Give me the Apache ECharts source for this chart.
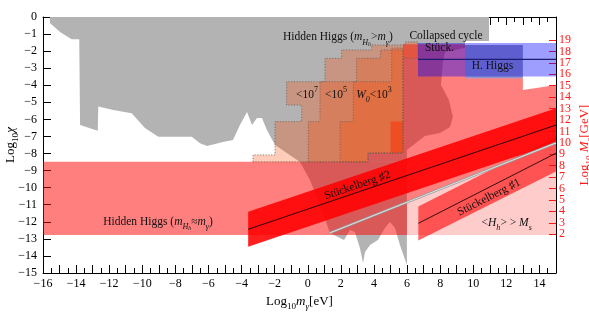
<!DOCTYPE html>
<html><head><meta charset="utf-8">
<script src="https://cdn.jsdelivr.net/npm/echarts@6/dist/echarts.min.js"></script>
<style>html,body{margin:0;padding:0;background:#fff}#c{width:589px;height:312px}</style>
</head><body><div id="c"></div>
<script>
// ---------- data (log10 m_gamma [eV], log10 chi) ----------
const grayConstraint = [[-15.58,0],[10.95,0],[10.95,-1.41],[9.5,-1.41],[9.5,-1.82],[8.29,-2.05],[8.17,-2.64],[8.05,-3.98],[8.53,-4.86],[8.77,-5.86],[8.59,-6.44],[7.99,-6.8],[7.08,-6.97],[5.99,-7.79],[5.99,-14.53],[5.57,-13.36],[5.27,-12.36],[4.97,-12.01],[4.66,-12.36],[4.24,-13.06],[3.76,-13.36],[3.46,-13.77],[3.34,-14.41],[3.15,-13.53],[2.85,-12.6],[2.55,-12.48],[2.19,-13.06],[1.82,-12.89],[1.34,-12.65],[0.74,-11.01],[0.13,-9.55],[-0.47,-8.49],[-1.98,-7.5],[-2.47,-6.62],[-2.77,-5.92],[-3.07,-5.92],[-3.37,-6.33],[-3.67,-5.57],[-4.1,-6.33],[-4.52,-7.21],[-5.12,-7.32],[-6.09,-7.56],[-6.51,-7.4],[-7.01,-7.01],[-9.03,-7.01],[-9.84,-6.5],[-10.64,-5.64],[-11.75,-5.45],[-12.66,-5.25],[-12.69,-6.66],[-13.76,-6.33],[-13.81,-1.31],[-14.27,-1.31],[-14.97,-0.88],[-15.58,-0.35]];
const hiddenHiggsBand = [[-16,-8.48],[6.0,-8.48],[6.0,-12.77],[-16,-12.77]];
const hiddenHiggsUpper = [[5.75,-1.6],[9.5,-1.6],[9.5,-3.59],[13.0,-3.59],[13.0,-4.28],[15,-3.98],[15,-7.38],[6.0,-10.85],[6.0,-8.48],[3.64,-8.48],[3.64,-7.97],[5.0,-7.97],[5.0,-6.13],[5.75,-6.13]];
const vevAboveMs = [[6.0,-12.77],[15,-12.77],[15,-7.38],[6.0,-10.85]];
const w0Below1e7 = [[-3.31,-8.49],[-3.31,-8.08],[-1.98,-8.08],[-1.98,-6.13],[-0.37,-6.13],[-0.37,-5.16],[-1.28,-5.16],[-1.28,-3.79],[1.04,-3.79],[1.04,-2.42],[2.05,-2.42],[2.05,-1.93],[3.86,-1.93],[3.86,-1.64],[5.9,-1.64],[5.9,-1.46],[6.66,-1.46],[6.66,-2.42],[5.75,-2.42],[5.75,-7.97],[3.64,-7.97],[3.64,-8.49]];
const w0Below1e5 = [[0.03,-8.49],[0.03,-6.13],[0.74,-6.13],[0.74,-3.79],[2.95,-3.79],[2.95,-2.42],[4.4,-2.42],[4.4,-1.93],[5.75,-1.93],[5.75,-7.97],[3.64,-7.97],[3.64,-8.49]];
const w0Below1e3 = [[1.95,-8.49],[1.95,-6.13],[2.75,-6.13],[2.75,-3.79],[5.07,-3.79],[5.07,-1.82],[5.75,-1.82],[5.75,-7.97],[3.64,-7.97],[3.64,-8.49]];
const stueckStrip = [[6.66,-1.52],[15,-1.52],[15,-3.48],[6.66,-3.48]];
const hHiggsBox = [[9.5,-1.64],[13.0,-1.64],[13.0,-3.59],[9.5,-3.59]];
const stueck2Band = [[-3.6,-11.41],[15,-5.35],[15,-7.38],[-3.6,-13.46]];
const stueck1Band = [[6.68,-11.11],[15,-7.03],[15,-9.06],[6.68,-13.1]];
const stueck2Line = [[-3.6,-12.44],[15,-6.33]];
const stueck1Line = [[6.68,-12.09],[15,-7.98]];
const grayEdgeLine = [[1.34,-12.65],[15,-7.38]];
const planckLine = [[6.66,-2.48],[15,-2.48]];
const msTicksEven = [2,4,6,8,10,12,14,16,18];
const msTicksOdd = [3,5,7,9,11,13,15,17,19];
const regionLabels = [
  {text:'{n|Hidden Higgs (}{i|m}{s|H}{ss|h}{n|>}{i|m}{s|γ}{n|)}', at:[1.82,-1.2], rot:0},
  {text:'{n|Collapsed cycle}', at:[8.35,-1.1], rot:0},
  {text:'{n|Stück.}', at:[7.96,-1.83], rot:0},
  {text:'{n|H. Higgs}', at:[11.16,-2.87], rot:0},
  {text:'{n|<10}{p|7}', at:[-0.05,-4.57], rot:0},
  {text:'{n|<10}{p|5}', at:[1.7,-4.57], rot:0},
  {text:'{i|W}{s|0}{n|<10}{p|3}', at:[4.0,-4.57], rot:0},
  {text:'{n|Stückelberg ♯2}', at:[3.0,-9.87], rot:18.6},
  {text:'{n|Stückelberg ♯1}', at:[10.95,-10.57], rot:27},
  {text:'{n|<}{i|H}{s|h}{n|> > }{i|M}{s|s}', at:[12.02,-12.05], rot:0},
  {text:'{n|Hidden Higgs (}{i|m}{s|H}{ss|h}{n|≈}{i|m}{s|γ}{n|)}', at:[-9.05,-11.99], rot:0}
];

// ---------- styling ----------
const SERIF = "'Liberation Serif','DejaVu Serif',serif";
const MS_RED = '#ff1a1a';
function richZr(f, col) {
  const lh = f + 6;
  return {
    n:{fontFamily:SERIF,fontSize:f,fill:col,lineHeight:lh,verticalAlign:'middle'},
    i:{fontFamily:SERIF,fontSize:f,fontStyle:'italic',fill:col,lineHeight:lh,verticalAlign:'middle'},
    s:{fontFamily:SERIF,fontSize:f*0.7,fontStyle:'italic',fill:col,lineHeight:lh,verticalAlign:'bottom'},
    ss:{fontFamily:SERIF,fontSize:f*0.5,fontStyle:'italic',fill:col,lineHeight:lh+2,verticalAlign:'bottom'},
    p:{fontFamily:SERIF,fontSize:f*0.7,fill:col,lineHeight:lh,verticalAlign:'top'}
  };
}
function richEc(f, col) {
  const lh = f + 6;
  return {
    n:{fontFamily:SERIF,fontSize:f,color:col,lineHeight:lh,verticalAlign:'middle'},
    i:{fontFamily:SERIF,fontSize:f,fontStyle:'italic',color:col,lineHeight:lh,verticalAlign:'middle'},
    s:{fontFamily:SERIF,fontSize:f*0.7,color:col,lineHeight:lh,verticalAlign:'bottom'},
    si:{fontFamily:SERIF,fontSize:f*0.7,fontStyle:'italic',color:col,lineHeight:lh,verticalAlign:'bottom'}
  };
}
let zc = 1;
function poly(pts, style) {
  return {type:'custom', coordinateSystem:'cartesian2d', silent:true, z: zc++, data:[[0,-1]],
    renderItem:(params, api) => ({type:'polygon', shape:{points: pts.map(p => api.coord(p))}, style: style})};
}
function line(pts, color, width) {
  return {type:'line', data:pts, showSymbol:false, symbol:'none', silent:true, z: zc++,
    lineStyle:{color:color, width:width}, animation:false};
}
const orangeStyle = {fill:'rgba(255,69,0,0.27)', stroke:'#6f6058', lineWidth:0.8, lineDash:[1.2,1.6]};
const fmtNeg = v => v === 0 ? '0' : (v < 0 ? '−' + Math.abs(v) : String(v));

const series = [
  poly(grayConstraint, {fill:'#b3b3b3'}),
  poly(vevAboveMs, {fill:'rgba(255,0,0,0.2)'}),
  poly(hiddenHiggsBand, {fill:'rgba(255,0,0,0.5)'}),
  poly(hiddenHiggsUpper, {fill:'rgba(255,0,0,0.5)'}),
  poly(w0Below1e7, orangeStyle),
  poly(w0Below1e5, orangeStyle),
  poly(w0Below1e3, orangeStyle),
  poly(stueckStrip, {fill:'rgba(0,0,255,0.38)'}),
  poly(hHiggsBox, {fill:'rgba(20,20,150,0.46)'}),
  poly(stueck2Band, {fill:'rgba(255,0,0,0.88)'}),
  poly(stueck1Band, {fill:'rgba(255,0,0,0.6)'}),
  line(grayEdgeLine, '#9a9a9a', 2.4),
  line(grayEdgeLine, '#ffffff', 0.7),
  line(stueck2Line, '#000', 0.8),
  line(stueck1Line, '#000', 0.8),
  line(planckLine, '#1c1c70', 1.4),
  {type:'custom', coordinateSystem:'cartesian2d', silent:true, z: zc++,
   data: regionLabels.map(l => [l.at[0], l.at[1]]),
   renderItem:(params, api) => {
     const l = regionLabels[params.dataIndex];
     const p = api.coord(l.at);
     return {type:'text', x:p[0], y:p[1], rotation: l.rot * Math.PI / 180,
       style:{text:l.text, rich:richZr(11.5,'#111'), x:0, y:0, align:'center', verticalAlign:'middle',
              fontFamily:SERIF, fontSize:11.5, fill:'#111'}};
   }}
];

function msAxis(ticks, withLineAndName) {
  const ax = {type:'value', position:'right', min:-1.4, max:21.02, offset:0,
    axisLine:{show:withLineAndName, onZero:false, lineStyle:{color:'#000', width:1}},
    axisTick:{show:true, inside:true, length:7, customValues:ticks, lineStyle:{color:MS_RED, width:1}},
    splitLine:{show:false},
    axisLabel:{show:true, customValues:ticks, showMinLabel:true, showMaxLabel:true, hideOverlap:false,
               margin:3, fontFamily:SERIF, fontSize:12, color:MS_RED}};
  if (withLineAndName) {
    Object.assign(ax, {name:'{n|Log}{s|10}{n| }{i|M}{si|s}{n|[GeV]}', nameLocation:'middle', nameGap:19,
      nameRotate:90, nameMoveOverlap:false,
      nameTextStyle:{fontFamily:SERIF, fontSize:13, color:MS_RED, rich:richEc(13, MS_RED)}});
  }
  return ax;
}

const axisTxt = {fontFamily:SERIF, fontSize:12, color:'#000'};
const option = {
  animation:false,
  backgroundColor:'#fff',
  grid:{left:43, right:33, top:17, bottom:39, containLabel:false, outerBoundsMode:'none'},
  xAxis:[
    {type:'value', position:'bottom', min:-16, max:15, interval:1,
     axisLine:{onZero:false, lineStyle:{color:'#000', width:1}},
     axisTick:{inside:true, length:8, lineStyle:{color:'#000', width:1}},
     minorTick:{show:true, splitNumber:2, length:5, lineStyle:{color:'#000', width:1}},
     splitLine:{show:false}, minorSplitLine:{show:false},
     axisLabel:Object.assign({margin:5, formatter: v => (Math.round(v) % 2 === 0 ? fmtNeg(v) : '')}, axisTxt),
     name:'{n|Log}{s|10}{i|m}{si|γ}{n|[eV]}', nameLocation:'middle', nameGap:19,
     nameTextStyle:{fontFamily:SERIF, fontSize:13, color:'#000', rich:richEc(13,'#000')}},
    {type:'value', position:'top', min:-16, max:15, interval:1,
     axisLine:{onZero:false, lineStyle:{color:'#000', width:1}},
     axisTick:{inside:true, length:8, lineStyle:{color:'#000', width:1}},
     minorTick:{show:true, splitNumber:2, length:5, lineStyle:{color:'#000', width:1}},
     splitLine:{show:false}, axisLabel:{show:false}}
  ],
  yAxis:[
    {type:'value', position:'left', min:-15, max:0, interval:1,
     axisLine:{onZero:false, lineStyle:{color:'#000', width:1}},
     axisTick:{inside:true, length:8, lineStyle:{color:'#000', width:1}},
     splitLine:{show:false},
     axisLabel:Object.assign({margin:6, formatter: fmtNeg}, axisTxt),
     name:'{n|Log}{s|10}{i|χ}', nameLocation:'middle', nameGap:23, nameRotate:90, nameMoveOverlap:false,
     nameTextStyle:{fontFamily:SERIF, fontSize:13, color:'#000', rich:richEc(13,'#000')}},
    msAxis(msTicksEven, true),
    msAxis(msTicksOdd, false)
  ],
  series: series
};
const chart = echarts.init(document.getElementById('c'), null, {renderer:'canvas'});
chart.setOption(option);
</script></body></html>
